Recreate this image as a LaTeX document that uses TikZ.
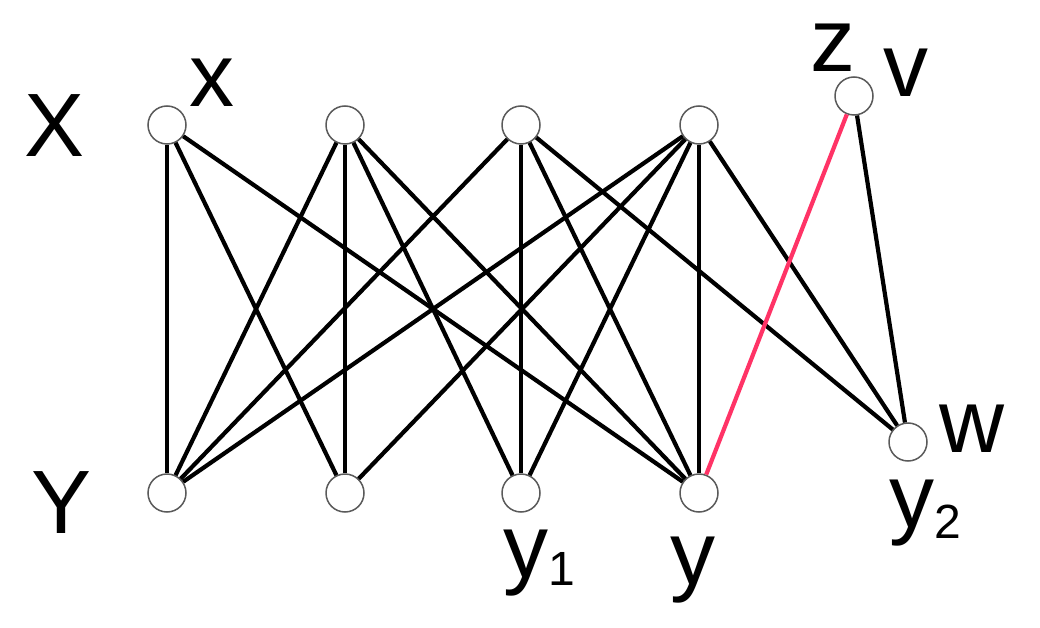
\documentclass[tikz,border=0pt]{standalone}
\usepackage{fontspec}
\setmainfont{Liberation Sans}
\definecolor{redge}{RGB}{255,51,102}
\definecolor{ringgray}{RGB}{90,90,90}
\begin{document}
\begin{tikzpicture}[x=1pt,y=-1pt,
  vert/.style={circle,draw=ringgray,line width=1.5pt,fill=white,minimum size=38pt,inner sep=0pt},
  edge/.style={line width=4.2pt,black},
  redline/.style={line width=4.2pt,redge},
  lab/.style={anchor=base,inner sep=0pt,font=\fontsize{90}{96}\selectfont},
  sub/.style={anchor=base,inner sep=0pt,font=\fontsize{48}{52}\selectfont}]
\useasboundingbox (0,0) rectangle (1040,628);
% vertices
\node[vert] (t1) at (167,125) {};
\node[vert] (t2) at (345,125) {};
\node[vert] (t3) at (521,125) {};
\node[vert] (t4) at (699,125) {};
\node[vert] (b1) at (167,493) {};
\node[vert] (b2) at (345,493) {};
\node[vert] (b3) at (521,493) {};
\node[vert] (b4) at (699,493) {};
\node[vert] (v) at (854,96) {};
\node[vert] (w) at (908,442) {};
% edges
\foreach \a/\b in {t1/b1,t1/b2,t1/b4,
                   t2/b1,t2/b2,t2/b3,t2/b4,
                   t3/b1,t3/b3,t3/b4,t3/w,
                   t4/b1,t4/b2,t4/b3,t4/b4,t4/w,
                   v/w}
  \draw[edge] (\a) -- (\b);
\draw[redline] (v) -- (b4);
% labels
\node[lab] (lX) at (55,157) {X};
\node[lab] (lx) at (212,107) {x};
\node[lab] (lY) at (62,533) {Y};
\node[lab] (ly1) at (526,577) {y};
\node[sub] (l1) at (562,585) {1};
\node[lab] (ly) at (693,584) {y};
\node[lab] (lz) at (833,72) {z};
\node[lab] (lv) at (906,97) {v};
\node[lab] (lw) at (972,452) {w};
\node[lab] (ly2) at (912,527) {y};
\node[sub] (l2) at (948,538) {2};
\end{tikzpicture}
\end{document}
